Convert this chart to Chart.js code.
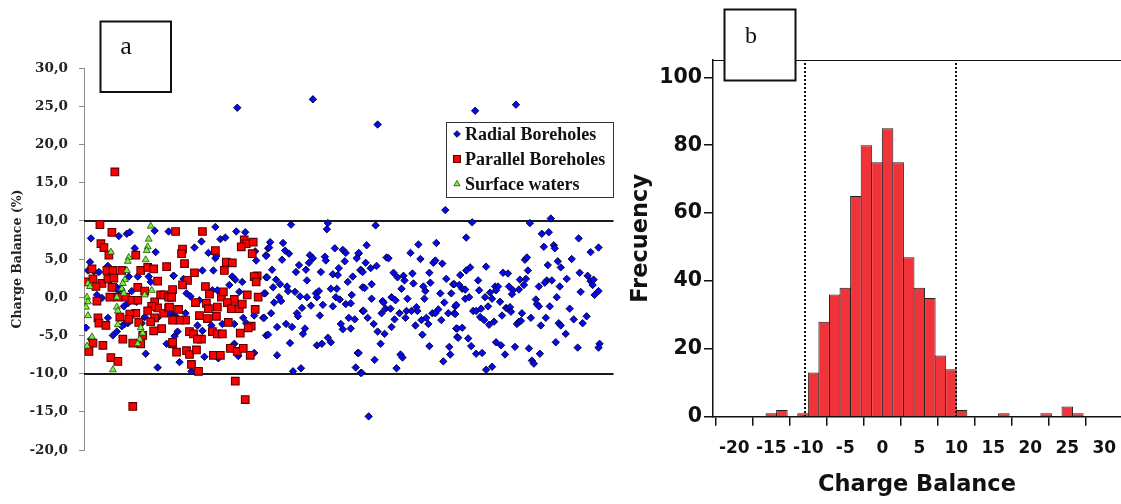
<!DOCTYPE html>
<html>
<head>
<meta charset="utf-8">
<title>Charge balance</title>
<script src="https://cdn.jsdelivr.net/npm/chart.js@4.4.0/dist/chart.umd.min.js"></script>
<style>
  html, body { margin: 0; padding: 0; background: #fff; }
  body { width: 1121px; height: 504px; position: relative; overflow: hidden; }
  #scatterChart { position: absolute; left: 0; top: 0; }
  #histChart { position: absolute; left: 620px; top: 0; }
</style>
</head>
<body>
<canvas id="scatterChart" width="620" height="504"></canvas>
<canvas id="histChart" width="501" height="504"></canvas>
<script>
// Panel a: sample order (x) vs charge balance in % (y)
const radialBoreholes = [
  [7,7.7],[35,8.0],[43,8.3],[46,8.5],[71,8.7],[85,8.6],[51,6.4],[72,5.9],[6,4.6],[24,4.1],[10,3.4],[15,3.3],[54,2.7],[65,2.7],[45,2.7],[67,2.0],[90,2.8],[32,1.4],[37,1.1],[48,0.8],[18,-0.1],[53,-0.6],[40,-1.2],[44,-0.8],[74,-2.7],[88,-2.1],[61,-2.6],[2,-4.0],[24,-2.7],[38,-3.8],[41,-3.5],[44,-3.4],[29,-5.0],[33,-4.5],[58,-3.4],[83,-6.1],[62,-7.4],[74,-9.2],[7,-5.5],[4,3.5],[13,0.3],[34,0.9],[90,-2.6],
  [132,9.2],[153,8.6],[162,8.5],[118,7.3],[111,6.5],[137,7.6],[142,7.8],[125,5.8],[132,5.1],[133,5.4],[172,6.0],[173,4.8],[183,5.5],[185,6.4],[119,3.5],[130,3.5],[90,2.8],[100,2.4],[149,2.7],[152,2.3],[159,2.0],[183,2.6],[103,0.5],[107,0.1],[116,-0.4],[129,0.9],[134,0.9],[146,1.6],[156,0.7],[182,0.5],[86,-2.1],[93,-2.6],[102,-2.1],[160,-2.7],[171,-2.4],[180,-2.7],[114,-3.7],[128,-3.7],[139,-3.5],[151,-3.5],[163,-3.4],[94,-4.5],[91,-5.1],[119,-4.4],[183,-5.0],[151,-6.1],[171,-7.3],[155,-7.7],[96,-8.5],[108,-9.7],[135,-8.0],[121,-7.8],
  [208,9.5],[245,9.7],[244,8.9],[187,7.2],[186,6.5],[200,7.1],[202,6.1],[206,5.7],[183,5.4],[199,4.9],[252,6.4],[260,6.2],[263,5.8],[276,5.7],[274,5.1],[227,5.5],[230,5.1],[242,5.3],[243,4.8],[226,4.5],[216,4.2],[223,3.6],[256,3.8],[262,4.7],[278,3.5],[189,3.6],[213,3.3],[238,3.3],[250,3.0],[255,2.9],[184,2.6],[193,2.3],[224,2.2],[270,2.7],[265,2.0],[190,1.3],[197,1.7],[204,1.4],[205,0.8],[212,0.7],[217,0.1],[224,0.0],[233,0.5],[236,0.8],[234,0.0],[248,1.1],[254,1.1],[253,0.0],[257,-0.3],[269,0.3],[263,-0.9],[268,-0.8],[280,1.3],[181,0.5],[191,-0.7],[196,0.0],[198,-0.5],[228,-1.1],[240,-1.0],[250,-1.2],[219,-1.4],[188,-2.1],[214,-2.1],[215,-2.5],[237,-2.4],[280,-1.8],[181,-2.7],[194,-3.9],[203,-3.5],[209,-3.9],[222,-4.1],[220,-4.8],[258,-3.5],[260,-4.2],[266,-2.7],[272,-2.9],[268,-4.1],[185,-4.9],[207,-6.0],[234,-6.3],[239,-6.1],[245,-5.3],[248,-5.9],[275,-7.3],[194,-7.6],[210,-9.7],[218,-9.3],[273,-9.2],[278,-9.9],
  [363,11.4],[293,9.4],[284,6.8],[276,5.8],[336,6.9],[354,7.1],[328,5.8],[338,5.0],[304,5.2],[306,5.1],[283,4.5],[288,3.8],[294,4.1],[351,4.5],[353,4.8],[360,4.4],[278,3.6],[280,3.3],[311,3.2],[315,2.6],[321,2.8],[322,2.2],[330,3.1],[347,3.2],[364,2.4],[371,1.7],[289,1.7],[282,1.2],[319,1.1],[331,1.8],[341,1.4],[348,1.9],[343,0.8],[358,0.5],[369,0.5],[289,-0.2],[309,0.0],[313,-0.4],[325,-0.2],[300,-0.5],[301,-0.7],[342,-0.2],[362,-0.7],[373,-1.2],[281,-1.8],[285,-2.7],[299,-2.1],[303,-1.5],[308,-1.5],[317,-2.1],[312,-2.9],[323,-2.7],[324,-1.8],[329,-1.8],[334,-1.3],[335,-1.8],[339,-3.0],[344,-2.7],[346,-3.5],[350,-2.1],[353,-2.1],[356,-1.6],[366,-2.1],[372,-2.1],[359,-3.0],[333,-3.7],[309,-3.9],[291,-3.5],[295,-4.5],[302,-4.8],[340,-4.9],[374,-4.1],[375,-5.2],[298,-6.1],[347,-6.4],[367,-6.5],[368,-7.5],[361,-8.4],[292,-8.2],[318,-7.5],[320,-7.9],[314,-9.3],[276,-7.3],[279,-9.9],[286,-15.6],
  [390,9.8],[448,9.7],[469,10.3],[384,7.8],[460,8.3],[467,8.5],[462,6.6],[472,6.8],[473,6.4],[443,4.9],[445,5.2],[404,4.0],[388,3.9],[384,3.5],[378,2.9],[466,4.2],[476,4.7],[479,3.9],[421,3.2],[426,3.1],[446,3.5],[396,2.2],[438,2.3],[444,2.4],[465,2.2],[470,2.2],[463,1.9],[372,1.7],[377,1.6],[380,1.1],[383,1.0],[397,0.9],[408,0.6],[413,1.4],[416,1.4],[414,0.9],[427,1.4],[431,0.9],[437,1.0],[442,1.6],[457,1.4],[478,1.4],[403,0.0],[410,-0.2],[418,-0.6],[383,-0.2],[387,0.0],[430,0.4],[454,-0.3],[455,-0.9],[457,-1.2],[475,0.0],[374,-1.0],[406,-1.2],[424,-1.4],[426,-1.5],[428,-1.3],[468,-1.2],[391,-1.8],[394,-1.8],[399,-1.5],[373,-2.2],[420,-2.4],[429,-1.9],[440,-2.1],[449,-2.7],[464,-2.7],[398,-2.6],[402,-3.0],[412,-3.2],[407,-3.6],[435,-3.5],[437,-3.2],[439,-3.1],[459,-3.7],[477,-3.4],[479,-3.7],[375,-4.1],[380,-4.0],[376,-5.3],[386,-5.4],[389,-6.4],[414,-5.9],[419,-6.3],[394,-7.4],[400,-7.3],[423,-7.5],[433,-6.5],[447,-6.7],[458,-7.4],[474,-5.9],[450,-8.3],[452,-8.7],[404,-9.5],[410,-9.1],
  [154,24.8],[230,25.9],[295,22.6],[393,24.4],[434,25.2],
  [497,7.7],[509,5.9],[517,6.5],[498,3.2],[506,2.8],[509,2.1],[511,1.6],[512,2.3],[499,0.7],[513,0.3],[517,0.8],[505,-2.5],[501,-3.4],[518,-6.1],[517,-6.6],[496,-6.6],
  [485,2.4],[488,-1.5],[490,5.0],[484,-4.8],[492,-2.9]
];

const parallelBoreholes = [
  [16,9.5],[28,8.5],[17,7.0],[20,6.5],[25,5.5],[8,3.7],[23,3.5],[29,3.5],[38,3.5],[52,5.5],[57,3.5],[64,3.9],[70,3.7],[83,4.0],[1,2.0],[9,2.4],[18,1.8],[24,2.4],[30,2.5],[12,1.4],[28,1.3],[54,1.3],[61,0.8],[74,2.1],[34,0.0],[42,0.0],[48,-0.4],[26,0.0],[13,-0.5],[54,-0.4],[71,-0.6],[74,-1.4],[77,0.3],[80,0.3],[85,0.0],[88,0.0],[68,-1.2],[80,-2.1],[85,-1.4],[64,-1.8],[71,-2.7],[52,-2.1],[46,-2.2],[14,-2.7],[15,-3.4],[22,-3.7],[36,-2.6],[45,-2.9],[55,-3.3],[67,-3.2],[78,-4.1],[70,-4.4],[59,-5.0],[39,-5.5],[49,-6.0],[57,-6.1],[9,-6.0],[5,-7.1],[19,-6.3],[27,-7.9],[34,-8.4],[49,-14.3],[89,-6.1],[31,16.4],
  [92,8.6],[119,8.6],[99,6.3],[98,5.7],[101,4.4],[132,6.1],[161,7.5],[163,7.0],[170,7.2],[158,6.6],[169,5.7],[143,4.6],[149,4.5],[141,3.5],[111,3.2],[104,2.2],[99,1.6],[89,1.0],[174,2.8],[171,2.7],[173,2.0],[122,1.4],[126,0.4],[138,0.0],[140,0.7],[151,-0.3],[164,0.3],[175,0.0],[88,0.0],[112,-0.7],[123,-0.8],[125,-1.5],[134,-1.3],[144,-0.7],[148,-1.5],[156,-1.5],[159,-0.9],[172,-1.6],[95,-1.6],[86,-1.3],[102,-3.0],[116,-2.4],[124,-2.8],[133,-2.5],[145,-3.3],[96,-3.0],[89,-3.0],[168,-3.8],[165,-4.0],[106,-4.5],[110,-4.8],[118,-5.5],[114,-5.5],[129,-4.5],[134,-4.8],[139,-4.8],[157,-4.7],[89,-5.9],[93,-7.2],[103,-7.0],[106,-7.5],[113,-6.9],[130,-7.6],[137,-7.6],[147,-6.7],[154,-7.1],[160,-6.7],[167,-7.6],[108,-8.8],[115,-9.7],[152,-11.0],[162,-13.4]
];

const surfaceWaters = [
  [67,9.3],[65,7.6],[64,6.6],[63,6.1],[27,5.9],[45,5.2],[44,4.7],[62,4.9],[43,3.5],[41,2.3],[39,1.8],[38,1.1],[40,0.5],[4,1.8],[6,1.4],[3,0.0],[4,-0.6],[2,-1.3],[4,-2.4],[33,-1.3],[34,-1.8],[34,-3.6],[57,-4.0],[59,-4.7],[56,-5.5],[54,-6.1],[8,-5.2],[3,-6.4],[29,-9.5],[68,0.9],[61,0.3],[33,0.0]
];

const balanceLimits = [10, -10];   // acceptance band drawn as solid lines
const scatterYTicks = [-20, -15, -10, -5, 0, 5, 10, 15, 20, 25, 30];

// Panel b: histogram of charge balance, 35 bins of 10/7 from -20 to 30
const binStart = -20;
const binWidth = 10 / 7;
const binFrequency = [
  0, 0, 0, 1, 2, 0, 1,
  13, 28, 36, 38, 65, 80, 75,
  85, 75, 47, 38, 35, 18, 14,
  2, 0, 0, 0, 1, 0, 0,
  0, 1, 0, 3, 1, 0, 0
];
const histXTicks = [-20, -15, -10, -5, 0, 5, 10, 15, 20, 25, 30];
const histYTicks = [0, 20, 40, 60, 80, 100];
const dottedCutoffs = [-10.45, 10];

const toPoints = arr => arr.map(p => ({ x: p[0], y: p[1] }));

// sin margen extra por etiquetas: el area del grafico queda fija
const noScalePadding = scale => {
  scale.paddingLeft = 0;
  scale.paddingRight = 0;
  scale.paddingTop = 0;
  scale.paddingBottom = 0;
};

// lineas +-10 y recuadro "a" + leyenda
const scatterExtras = {
  id: 'scatterExtras',
  beforeDatasetsDraw(chart) {
    const { ctx, chartArea, scales } = chart;
    ctx.save();
    ctx.strokeStyle = '#1a1a1a';
    ctx.lineWidth = 2;
    balanceLimits.forEach(v => {
      const y = Math.round(scales.y.getPixelForValue(v));
      ctx.beginPath();
      ctx.moveTo(chartArea.left, y);
      ctx.lineTo(chartArea.right, y);
      ctx.stroke();
    });
    ctx.restore();
  },
  afterDraw(chart) {
    const ctx = chart.ctx;
    ctx.save();
    // recuadro "a"
    ctx.fillStyle = '#fff';
    ctx.fillRect(100.5, 21.5, 70.5, 70.5);
    ctx.strokeStyle = '#111';
    ctx.lineWidth = 2;
    ctx.strokeRect(100.5, 21.5, 70.5, 70.5);
    ctx.fillStyle = '#111';
    ctx.font = '26px "Liberation Serif"';
    ctx.textAlign = 'center';
    ctx.textBaseline = 'middle';
    ctx.fillText('a', 126, 47);

    // leyenda
    ctx.fillStyle = '#fff';
    ctx.fillRect(446.5, 122.5, 167, 75);
    ctx.strokeStyle = '#333';
    ctx.lineWidth = 1;
    ctx.strokeRect(446.5, 122.5, 167, 75);
    ctx.font = 'bold 18px "Liberation Serif"';
    ctx.textAlign = 'left';
    chart.data.datasets.forEach((ds, i) => {
      const y = 134 + i * 25;
      ctx.fillStyle = ds.backgroundColor;
      ctx.strokeStyle = ds.borderColor;
      ctx.lineWidth = ds.borderWidth;
      Chart.helpers.drawPoint(ctx, {
        pointStyle: ds.pointStyle, rotation: 0,
        radius: ds.pointRadius * 0.9, borderWidth: ds.borderWidth
      }, 457, y);
      ctx.fillStyle = '#111';
      ctx.fillText(ds.label, 465, y + 1);
    });
    ctx.restore();
  }
};

new Chart(document.getElementById('scatterChart').getContext('2d'), {
  type: 'scatter',
  data: {
    datasets: [
      {
        label: 'Radial Boreholes',
        data: toPoints(radialBoreholes),
        pointStyle: 'rectRot',
        pointRadius: 3.7,
        backgroundColor: '#0808f0',
        borderColor: '#00002a',
        borderWidth: 0.9,
        order: 3
      },
      {
        label: 'Parallel Boreholes',
        data: toPoints(parallelBoreholes),
        pointStyle: 'rect',
        pointRadius: 5.4,
        backgroundColor: '#ff0000',
        borderColor: '#5a0000',
        borderWidth: 1.1,
        order: 2
      },
      {
        label: 'Surface waters',
        data: toPoints(surfaceWaters),
        pointStyle: 'triangle',
        pointRadius: 4,
        backgroundColor: '#7cf040',
        borderColor: '#1f4a0a',
        borderWidth: 0.8,
        order: 1
      }
    ]
  },
  options: {
    responsive: false,
    animation: false,
    devicePixelRatio: 1,
    layout: { padding: { top: 68, bottom: 54, left: 0, right: 4 } },
    plugins: { legend: { display: false }, tooltip: { enabled: false } },
    scales: {
      x: { type: 'linear', min: 0, max: 532, display: false },
      y: {
        type: 'linear',
        min: -20,
        max: 30,
        afterFit: scale => { scale.width = 84; noScalePadding(scale); },
        afterBuildTicks: axis => { axis.ticks = scatterYTicks.map(v => ({ value: v })); },
        border: { display: true, color: '#8c8c8c', width: 1 },
        grid: { drawOnChartArea: false, tickLength: 5, color: '#8c8c8c' },
        ticks: {
          padding: 11,
          color: '#222',
          font: { family: '"DejaVu Serif"', weight: 'bold', size: 13.5 },
          callback: v => v.toFixed(1).replace('.', ',')
        },
        title: {
          display: true,
          text: 'Charge Balance (%)',
          color: '#222',
          padding: { top: 10.5, bottom: 0 },
          font: { family: '"DejaVu Serif"', weight: 'bold', size: 12.5 }
        }
      }
    }
  },
  plugins: [scatterExtras]
});

// marco superior, lineas punteadas y recuadro "b"
const histExtras = {
  id: 'histExtras',
  afterDatasetsDraw(chart) {
    const { ctx, chartArea, scales } = chart;
    ctx.save();
    ctx.strokeStyle = '#111';
    ctx.lineWidth = 1;
    ctx.beginPath();
    ctx.moveTo(chartArea.left, chartArea.top + 0.5);
    ctx.lineTo(chartArea.right, chartArea.top + 0.5);
    ctx.stroke();

    ctx.lineWidth = 2;
    ctx.setLineDash([2, 2]);
    dottedCutoffs.forEach(v => {
      const x = Math.round(scales.x.getPixelForValue(v));
      ctx.beginPath();
      ctx.moveTo(x, chartArea.top + 3);
      ctx.lineTo(x, chartArea.bottom);
      ctx.stroke();
    });
    ctx.setLineDash([]);

    ctx.fillStyle = '#fff';
    ctx.fillRect(104.5, 9.5, 71, 71);
    ctx.strokeStyle = '#111';
    ctx.lineWidth = 2;
    ctx.strokeRect(104.5, 9.5, 71, 71);
    ctx.fillStyle = '#111';
    ctx.font = '24px "Liberation Serif"';
    ctx.textAlign = 'center';
    ctx.textBaseline = 'middle';
    ctx.fillText('b', 131, 37);
    ctx.restore();
  }
};

new Chart(document.getElementById('histChart').getContext('2d'), {
  type: 'bar',
  data: {
    datasets: [{
      label: 'Frecuency',
      data: binFrequency.map((f, i) => ({ x: binStart + (i + 0.5) * binWidth, y: f })),
      backgroundColor: '#ef3339',
      borderColor: '#1e1e1e',
      borderWidth: 1,
      borderSkipped: 'start',
      barPercentage: 1,
      categoryPercentage: 1.09
    }]
  },
  options: {
    responsive: false,
    animation: false,
    devicePixelRatio: 1,
    layout: { padding: { top: 60, bottom: 0, left: 0, right: 0 } },
    plugins: { legend: { display: false }, tooltip: { enabled: false } },
    scales: {
      x: {
        type: 'linear',
        min: -22.88,
        max: 32.26,
        offset: false,
        afterFit: scale => { scale.height = 87.3; noScalePadding(scale); },
        afterBuildTicks: axis => { axis.ticks = histXTicks.map(v => ({ value: v })); },
        border: { display: true, color: '#111', width: 1.5 },
        grid: { drawOnChartArea: false, tickLength: 9, color: '#111', lineWidth: 1.5 },
        ticks: {
          padding: 13,
          color: '#111',
          font: { family: '"DejaVu Sans"', weight: 'bold', size: 17 }
        },
        title: {
          display: true,
          text: 'Charge Balance',
          color: '#111',
          padding: { top: 0, bottom: 5 },
          font: { family: '"DejaVu Sans"', weight: 'bold', size: 22.5 }
        }
      },
      y: {
        type: 'linear',
        min: 0,
        max: 105.1,
        afterFit: scale => { scale.width = 93; noScalePadding(scale); },
        afterBuildTicks: axis => { axis.ticks = histYTicks.map(v => ({ value: v })); },
        border: { display: true, color: '#111', width: 1.5 },
        grid: { drawOnChartArea: false, tickLength: 9, color: '#111', lineWidth: 1.5 },
        ticks: {
          padding: 2,
          color: '#111',
          font: { family: '"DejaVu Sans"', weight: 'bold', size: 20.5 }
        },
        title: {
          display: true,
          text: 'Frecuency',
          color: '#111',
          padding: { top: 7.5, bottom: 0 },
          font: { family: '"DejaVu Sans"', weight: 'bold', size: 22.5 }
        }
      }
    }
  },
  plugins: [histExtras]
});
</script>
</body>
</html>
